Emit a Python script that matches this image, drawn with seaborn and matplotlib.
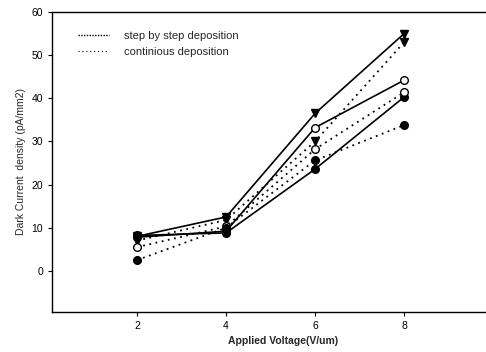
import pandas as pd
import matplotlib
matplotlib.use("Agg")
import matplotlib.pyplot as plt
from matplotlib.lines import Line2D
import seaborn as sns

# Data
voltage = [2, 4, 6, 8]

step_tri = [8.0, 12.5, 36.5, 55.0]
step_open = [7.8, 9.2, 33.2, 44.2]
step_filled = [8.2, 8.8, 23.6, 40.3]

cont_tri = [7.0, 11.8, 30.0, 53.0]
cont_open = [5.5, 10.3, 28.2, 41.4]
cont_filled = [2.5, 10.0, 25.6, 33.8]

series = [
    ("step", step_tri, "v", "black"),
    ("step", step_open, "o", "white"),
    ("step", step_filled, "o", "black"),
    ("cont", cont_tri, "v", "black"),
    ("cont", cont_open, "o", "white"),
    ("cont", cont_filled, "o", "black"),
]

sns.set_style("ticks")
plt.rcParams['font.family'] = ['Liberation Sans', 'DejaVu Sans']

fig = plt.figure(figsize=(4.86, 3.52), dpi=100)
ax = fig.add_axes([0.107, 0.114, 0.95, 0.852])

for kind, vals, marker, face in series:
    df = pd.DataFrame({"x": voltage, "y": vals})
    ls = "-" if kind == "step" else (0, (1, 2.5))
    lw = 1.2 if kind == "step" else 1.3
    sns.lineplot(data=df, x="x", y="y", ax=ax, color="black", linestyle=ls,
                 linewidth=lw, marker=marker, markersize=5.5,
                 markerfacecolor=face, markeredgecolor="black",
                 markeredgewidth=1.0, legend=False)

ax.set_xlim(0.09, 10.46)
ax.set_ylim(-9.5, 60)
ax.set_xticks([2, 4, 6, 8])
ax.set_yticks([0, 10, 20, 30, 40, 50, 60])
ax.tick_params(labelsize=7.5, length=3, width=0.8, colors="black")
for s in ax.spines.values():
    s.set_linewidth(1.0)
    s.set_color("black")
ax.spines["right"].set_visible(False)

ax.set_xlabel("Applied Voltage(V/um)", fontsize=7.5, fontweight="bold", labelpad=4)
ax.set_ylabel("Dark Current  density (pA/mm2)", fontsize=7.5, labelpad=4)

handles = [
    Line2D([], [], color="black", linestyle=(0, (1, 1)), linewidth=1.0),
    Line2D([], [], color="black", linestyle=(0, (1, 2.5)), linewidth=0.8),
]
ax.legend(handles, ["step by step deposition", "continious deposition"],
          loc="upper left", bbox_to_anchor=(0.035, 0.97), frameon=False,
          fontsize=8, handlelength=2.8, handletextpad=1.3, labelspacing=0.5)

fig.savefig("out.png", dpi=100)
